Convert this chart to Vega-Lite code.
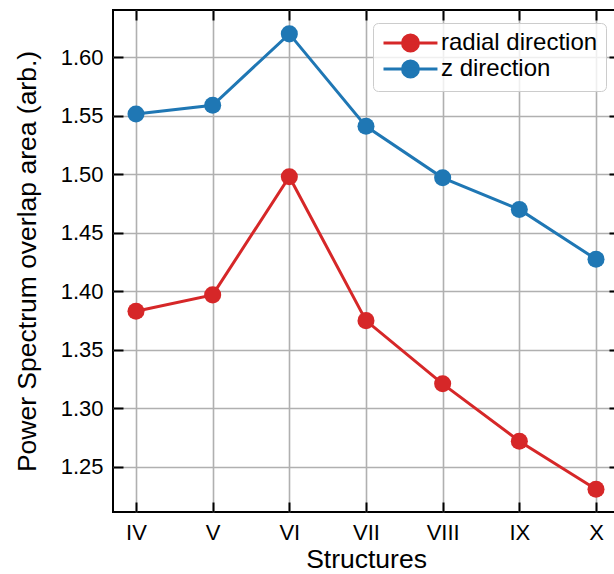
{
  "$schema": "https://vega.github.io/schema/vega-lite/v6.json",
  "width": 506,
  "height": 502,
  "autosize": {"type": "none"},
  "padding": {"left": 113, "top": 10, "right": -5, "bottom": 62},
  "background": "white",
  "config": {
    "font": "Liberation Sans",
    "view": {"stroke": "black", "strokeWidth": 2},
    "axis": {
      "labelFont": "Liberation Sans",
      "titleFont": "Liberation Sans",
      "labelFontSize": 22,
      "titleFontSize": 26.5,
      "titleFontWeight": "normal",
      "labelColor": "black",
      "titleColor": "black",
      "tickColor": "black",
      "tickWidth": 2,
      "tickSize": -10,
      "domain": false,
      "gridColor": "#b0b0b0",
      "gridWidth": 1.6,
      "gridOpacity": 1
    },
    "legend": {
      "labelFont": "Liberation Sans",
      "labelFontSize": 24,
      "labelColor": "black"
    }
  },
  "data": {
    "values": [
      {"structure": "IV", "direction": "radial direction", "value": 1.383},
      {"structure": "V", "direction": "radial direction", "value": 1.397},
      {"structure": "VI", "direction": "radial direction", "value": 1.498},
      {"structure": "VII", "direction": "radial direction", "value": 1.375},
      {"structure": "VIII", "direction": "radial direction", "value": 1.321},
      {"structure": "IX", "direction": "radial direction", "value": 1.272},
      {"structure": "X", "direction": "radial direction", "value": 1.231},
      {"structure": "IV", "direction": "z direction", "value": 1.5515},
      {"structure": "V", "direction": "z direction", "value": 1.559},
      {"structure": "VI", "direction": "z direction", "value": 1.620},
      {"structure": "VII", "direction": "z direction", "value": 1.541},
      {"structure": "VIII", "direction": "z direction", "value": 1.497},
      {"structure": "IX", "direction": "z direction", "value": 1.470},
      {"structure": "X", "direction": "z direction", "value": 1.4275}
    ]
  },
  "layer": [
    {
      "mark": {"type": "line", "strokeWidth": 3},
      "encoding": {
        "x": {
          "field": "structure", "type": "ordinal",
          "sort": ["IV", "V", "VI", "VII", "VIII", "IX", "X"],
          "scale": {"type": "point", "padding": 0.3},
          "axis": {"orient": "bottom", "title": "Structures", "labelAngle": 0, "labelPadding": 20, "titlePadding": 3, "grid": true}
        },
        "y": {
          "field": "value", "type": "quantitative",
          "scale": {"domain": [1.2115, 1.6404], "zero": false, "nice": false},
          "axis": {"orient": "left", "title": "Power Spectrum overlap area (arb.)", "values": [1.25, 1.3, 1.35, 1.4, 1.45, 1.5, 1.55, 1.6], "format": ".2f", "labelPadding": 20, "titlePadding": 19, "grid": true}
        },
        "color": {
          "field": "direction", "type": "nominal",
          "scale": {"domain": ["radial direction", "z direction"], "range": ["#d62728", "#1f77b4"]},
          "legend": {
            "title": null,
            "orient": "top-right",
            "offset": 13,
            "fillColor": "rgba(255,255,255,0.8)",
            "strokeColor": "#cccccc",
            "cornerRadius": 5,
            "padding": 8,
            "symbolType": "M-1,0L4.68,0M1.0,0A0.84,0.84,0,1,0,2.68,0A0.84,0.84,0,1,0,1.0,0Z",
            "symbolSize": 361,
            "symbolStrokeWidth": 3,
            "labelOffset": 36,
            "rowPadding": -3,
            "encode": {
              "symbols": {"update": {"fill": {"scale": "color", "field": "value"}, "stroke": {"scale": "color", "field": "value"}, "opacity": {"value": 1}}}
            }
          }
        }
      }
    },
    {
      "mark": {"type": "point", "filled": true, "size": 290, "opacity": 1},
      "encoding": {
        "x": {
          "field": "structure", "type": "ordinal",
          "sort": ["IV", "V", "VI", "VII", "VIII", "IX", "X"],
          "scale": {"type": "point", "padding": 0.3},
          "axis": {"orient": "top", "title": null, "labels": false, "grid": false}
        },
        "y": {
          "field": "value", "type": "quantitative",
          "scale": {"domain": [1.2115, 1.6404], "zero": false, "nice": false},
          "axis": {"orient": "right", "title": null, "labels": false, "grid": false, "values": [1.25, 1.3, 1.35, 1.4, 1.45, 1.5, 1.55, 1.6]}
        },
        "color": {
          "field": "direction", "type": "nominal",
          "scale": {"domain": ["radial direction", "z direction"], "range": ["#d62728", "#1f77b4"]},
          "legend": null
        }
      }
    }
  ],
  "resolve": {"axis": {"x": "independent", "y": "independent"}}
}
